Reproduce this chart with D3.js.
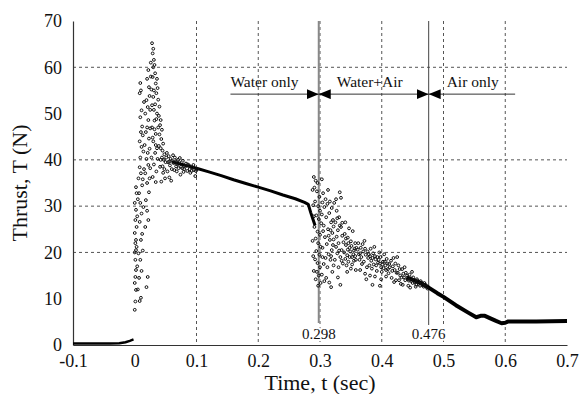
<!DOCTYPE html>
<html>
<head>
<meta charset="utf-8">
<script src="https://cdn.jsdelivr.net/npm/d3@7"></script>
<style>
  body { margin: 0; background: #fff; }
</style>
</head>
<body>
<div id="chart"></div>
<script>
const serif = "'Liberation Serif', 'Times New Roman', Times, 'DejaVu Serif', serif";

// axis ticks
const xTicks = [-0.1, 0, 0.1, 0.2, 0.3, 0.4, 0.5, 0.6, 0.7];
const yTicks = [0, 10, 20, 30, 40, 50, 60, 70];
const xGrid = [0.1, 0.2, 0.3, 0.4, 0.5, 0.6];
const yGrid = [20, 30, 40, 60];

// phase boundaries (sec) and labels
const phaseMarks = [0.298, 0.476];
const phaseLabels = ["Water only", "Water+Air", "Air only"];
const phaseBounds = [0.155, 0.298, 0.476, 0.616];
const arrowLevel = 54.2;

// continuous parts of the record [t, T]
const preLaunch = [[-0.1, 0.3], [-0.04, 0.3], [-0.025, 0.4], [-0.015, 0.6], [-0.008, 0.9], [-0.002, 1.2]];
const waterDecay = [[0.06, 39.6], [0.08, 38.9], [0.10, 38.2], [0.12, 37.4], [0.14, 36.6], [0.16, 35.7],
  [0.18, 34.9], [0.20, 34.1], [0.22, 33.3], [0.24, 32.4], [0.26, 31.6], [0.275, 30.8], [0.281, 30.4],
  [0.285, 28.6], [0.289, 27.0], [0.292, 25.8]];
const airDecay = [[0.44, 14.6], [0.46, 13.6], [0.476, 12.4], [0.49, 11.2], [0.50, 10.4], [0.52, 8.6],
  [0.54, 7.0], [0.553, 6.0], [0.56, 6.3], [0.567, 6.3], [0.575, 5.8], [0.585, 5.2], [0.594, 4.7],
  [0.60, 4.8], [0.605, 5.1], [0.65, 5.1], [0.70, 5.2]];

// scattered samples at ignition [t, T]
const ignitionPoints = [
  [0.000, 7.6], [0.001, 9.4], [0.002, 11.9], [0.000, 13.4], [0.001, 14.7], [0.002, 16.2], [0.001, 18.4],
  [0.000, 20.0], [0.002, 20.5], [0.003, 21.2], [0.001, 22.0], [0.002, 22.7], [0.000, 24.2], [0.003, 25.5],
  [0.001, 27.0], [0.002, 29.2], [0.000, 30.7], [0.003, 32.8], [0.002, 34.1],
  [0.008, 9.5], [0.010, 10.2], [0.007, 14.5], [0.011, 16.0], [0.009, 18.4], [0.006, 19.8], [0.010, 22.7],
  [0.012, 24.0], [0.008, 26.6], [0.011, 28.4], [0.009, 30.7], [0.007, 32.8], [0.012, 34.5], [0.010, 37.1],
  [0.008, 38.4], [0.009, 40.5], [0.011, 42.8], [0.008, 44.0], [0.010, 46.0], [0.012, 47.2], [0.009, 49.2],
  [0.011, 50.7], [0.008, 54.4], [0.010, 55.0], [0.009, 56.6],
  [0.019, 12.5], [0.021, 14.7], [0.017, 25.5], [0.022, 27.0], [0.020, 29.0], [0.018, 31.3], [0.023, 33.0],
  [0.020, 35.0], [0.017, 37.1], [0.022, 38.9], [0.019, 40.2], [0.021, 41.5], [0.016, 43.2], [0.023, 44.6],
  [0.018, 46.0], [0.020, 47.0], [0.022, 48.6], [0.017, 50.0], [0.021, 51.4], [0.019, 52.9], [0.023, 55.7],
  [0.020, 57.5], [0.022, 59.4],
  [0.028, 65.2], [0.030, 64.0], [0.029, 63.0], [0.031, 61.6], [0.032, 60.5], [0.030, 60.0], [0.033, 58.7],
  [0.029, 57.9], [0.034, 56.5], [0.031, 55.0], [0.035, 54.4], [0.030, 53.6], [0.033, 52.0], [0.036, 50.0],
  [0.032, 48.5], [0.028, 47.0], [0.034, 45.6], [0.030, 44.0], [0.036, 42.5], [0.033, 41.5], [0.027, 40.5],
  [0.031, 39.0], [0.035, 37.5], [0.029, 36.3], [0.034, 35.2],
  [0.038, 53.0], [0.040, 51.5], [0.039, 49.5], [0.042, 48.6], [0.041, 47.5], [0.044, 46.5], [0.040, 45.5],
  [0.043, 44.5], [0.046, 43.5], [0.042, 42.5], [0.045, 42.0], [0.048, 41.2], [0.044, 40.5], [0.047, 40.0],
  [0.050, 39.5], [0.041, 38.5], [0.046, 37.2], [0.049, 36.0], [0.043, 35.3],
  [0.052, 41.5], [0.055, 40.8], [0.058, 40.2], [0.054, 39.5], [0.057, 38.8], [0.060, 38.0], [0.053, 37.5],
  [0.056, 36.2], [0.059, 35.5], [0.062, 41.0], [0.065, 40.5], [0.063, 39.3], [0.067, 38.6], [0.070, 40.0],
  [0.068, 37.5], [0.072, 39.5], [0.075, 38.5], [0.074, 36.8], [0.078, 39.8], [0.080, 38.0], [0.083, 39.2],
  [0.085, 37.6], [0.088, 38.8], [0.090, 37.2], [0.093, 38.4], [0.096, 37.8], [0.098, 36.5], [0.101, 38.0],
  [0.004, 27.8], [0.005, 31.5], [0.004, 17.0], [0.005, 12.0], [0.006, 36.0], [0.013, 20.4], [0.014, 29.8],
  [0.013, 35.8], [0.014, 41.8], [0.013, 45.3], [0.015, 52.5], [0.015, 38.0], [0.024, 42.4], [0.025, 46.8],
  [0.025, 50.8], [0.024, 53.8], [0.026, 58.0], [0.026, 61.0], [0.027, 55.2], [0.025, 38.2], [0.024, 36.0],
  [0.036, 57.5], [0.037, 55.5], [0.038, 47.0], [0.039, 43.0], [0.037, 40.2], [0.035, 48.8], [0.032, 46.6],
  [0.034, 43.2], [0.031, 50.8], [0.028, 51.8], [0.029, 44.8], [0.042, 40.0], [0.045, 38.6], [0.048, 38.0],
  [0.051, 40.5], [0.056, 39.6], [0.061, 39.8], [0.064, 37.8], [0.066, 39.6], [0.069, 39.0], [0.071, 38.2],
  [0.073, 40.4], [0.077, 38.2], [0.079, 37.4], [0.082, 38.6], [0.086, 39.0], [0.089, 38.0], [0.092, 37.6],
  [0.095, 38.9], [0.099, 37.6]
];

// scattered samples in the water+air phase [t, T]
const mixedPoints = [
  [0.290, 36.3], [0.293, 35.5], [0.296, 35.0], [0.291, 34.0], [0.295, 33.2], [0.299, 32.0], [0.292, 31.0],
  [0.297, 30.0], [0.300, 29.0], [0.294, 28.0], [0.298, 27.2], [0.302, 26.3], [0.291, 25.5], [0.296, 24.5],
  [0.300, 23.8], [0.293, 23.0], [0.297, 22.0], [0.301, 21.2], [0.294, 20.3], [0.299, 19.5], [0.292, 18.5],
  [0.296, 17.7], [0.300, 16.8], [0.295, 15.8], [0.298, 15.0], [0.293, 14.2], [0.301, 13.4], [0.297, 12.8],
  [0.305, 32.8], [0.309, 31.5], [0.312, 30.5], [0.307, 29.8], [0.315, 28.5], [0.310, 27.6], [0.318, 26.5],
  [0.306, 25.8], [0.313, 25.0], [0.320, 24.2], [0.308, 23.3], [0.316, 22.7], [0.311, 21.8], [0.304, 21.0],
  [0.319, 20.5], [0.314, 19.6], [0.309, 18.8], [0.317, 18.4], [0.306, 17.5], [0.312, 16.8], [0.320, 15.8],
  [0.310, 14.5], [0.315, 13.5], [0.318, 12.5],
  [0.323, 30.7], [0.327, 29.0], [0.331, 27.6], [0.325, 26.5], [0.334, 25.5], [0.329, 24.8], [0.336, 23.6],
  [0.322, 22.8], [0.330, 22.0], [0.326, 21.2], [0.335, 20.5], [0.328, 19.8], [0.333, 19.0], [0.324, 18.4],
  [0.337, 17.6], [0.330, 16.8], [0.332, 33.0], [0.334, 31.8],
  [0.340, 24.0], [0.345, 23.2], [0.350, 22.4], [0.342, 21.6], [0.348, 21.0], [0.355, 20.4], [0.339, 20.0],
  [0.344, 19.4], [0.352, 19.0], [0.358, 18.4], [0.346, 18.0], [0.341, 26.5], [0.347, 25.2], [0.353, 24.6],
  [0.357, 22.0], [0.343, 17.2], [0.350, 16.5], [0.356, 20.8],
  [0.362, 22.0], [0.366, 21.0], [0.370, 20.2], [0.374, 19.5], [0.378, 18.8], [0.382, 20.8], [0.386, 19.8],
  [0.390, 18.5], [0.394, 17.8], [0.398, 19.0], [0.402, 18.0], [0.406, 17.2], [0.410, 16.4], [0.364, 18.4],
  [0.368, 17.5], [0.372, 22.5], [0.376, 16.8], [0.380, 17.2], [0.384, 16.5], [0.388, 21.2], [0.392, 16.0],
  [0.396, 20.0], [0.400, 15.8], [0.404, 19.6], [0.408, 18.6], [0.412, 17.5], [0.363, 19.6], [0.371, 18.0],
  [0.379, 19.6], [0.387, 17.4], [0.395, 18.4], [0.403, 16.6], [0.411, 15.5], [0.385, 13.0], [0.397, 12.8],
  [0.375, 14.2],
  [0.415, 18.2], [0.418, 17.0], [0.421, 16.2], [0.424, 15.6], [0.427, 17.2], [0.430, 15.0], [0.433, 16.4],
  [0.436, 14.6], [0.439, 15.6], [0.442, 14.2], [0.445, 15.2], [0.448, 13.8], [0.451, 14.6], [0.454, 13.5],
  [0.457, 14.2], [0.460, 13.2], [0.463, 13.8], [0.466, 12.9], [0.469, 13.4], [0.472, 12.6], [0.416, 14.5],
  [0.420, 13.6], [0.425, 19.0], [0.431, 13.2], [0.437, 16.8], [0.443, 12.8], [0.449, 15.8], [0.455, 12.6],
  [0.419, 18.8], [0.428, 14.0],
  [0.288, 33.5], [0.289, 30.2], [0.290, 27.8], [0.288, 22.5], [0.289, 19.2], [0.290, 16.0], [0.303, 35.8],
  [0.304, 30.8], [0.303, 28.2], [0.305, 24.6], [0.304, 19.0], [0.303, 15.2], [0.307, 13.8],
  [0.313, 33.5], [0.316, 31.0], [0.319, 29.6], [0.321, 27.0], [0.317, 24.8], [0.322, 25.6], [0.314, 23.6],
  [0.321, 21.6], [0.318, 19.2], [0.322, 17.2],
  [0.326, 31.5], [0.328, 27.4], [0.332, 25.8], [0.336, 26.4], [0.338, 22.2], [0.327, 23.4], [0.331, 20.4],
  [0.335, 18.2], [0.329, 14.6], [0.333, 13.0],
  [0.342, 23.0], [0.346, 22.0], [0.349, 20.2], [0.351, 21.4], [0.354, 19.6], [0.357, 19.2], [0.359, 21.0],
  [0.345, 20.6], [0.348, 19.0], [0.352, 17.4], [0.355, 18.2], [0.358, 16.2], [0.341, 18.6], [0.344, 15.8],
  [0.361, 20.6], [0.365, 19.8], [0.367, 19.0], [0.369, 21.8], [0.373, 20.8], [0.377, 20.2], [0.381, 19.2],
  [0.383, 18.2], [0.385, 18.8], [0.389, 19.2], [0.391, 17.2], [0.393, 19.0], [0.397, 17.6], [0.399, 16.8],
  [0.401, 17.4], [0.405, 18.0], [0.407, 16.2], [0.409, 17.6], [0.413, 16.8], [0.365, 16.2], [0.373, 15.4],
  [0.381, 15.0], [0.389, 14.8], [0.399, 14.2], [0.407, 14.8],
  [0.417, 16.0], [0.422, 17.6], [0.426, 15.6], [0.429, 16.4], [0.432, 14.6], [0.435, 15.4], [0.438, 14.0],
  [0.441, 15.0], [0.444, 13.9], [0.447, 14.4], [0.450, 13.4], [0.453, 14.0], [0.456, 13.0], [0.459, 13.8],
  [0.462, 12.8], [0.465, 13.4], [0.468, 12.6], [0.471, 13.0], [0.474, 12.2], [0.423, 14.0], [0.434, 13.0],
  [0.446, 12.4]
];

const margin = {top: 21, right: 13, bottom: 49, left: 73};
const width = 580 - margin.left - margin.right;
const height = 394 - margin.top - margin.bottom;

const svg = d3.select("#chart").append("svg")
  .attr("width", 580)
  .attr("height", 394)
  .style("font-family", serif);

const g = svg.append("g")
  .attr("transform", `translate(${margin.left},${margin.top})`);

const x = d3.scaleLinear().domain([-0.1, 0.7]).range([0, width]);
const y = d3.scaleLinear().domain([0, 70]).range([height, 0]);

// dashed grid
g.append("g").selectAll("line").data(xGrid).join("line")
  .attr("x1", d => x(d)).attr("x2", d => x(d))
  .attr("y1", 0).attr("y2", height)
  .attr("stroke", "#555").attr("stroke-width", 1).attr("stroke-dasharray", "3,3");
g.append("g").selectAll("line").data(yGrid).join("line")
  .attr("x1", 0).attr("x2", width)
  .attr("y1", d => y(d)).attr("y2", d => y(d))
  .attr("stroke", "#555").attr("stroke-width", 1).attr("stroke-dasharray", "3,3");

// axes
const xAxisG = g.append("g")
  .attr("transform", `translate(0,${height})`)
  .call(d3.axisBottom(x).tickValues(xTicks).tickSize(0).tickPadding(11).tickFormat(d => String(d)));
const yAxisG = g.append("g")
  .call(d3.axisLeft(y).tickValues(yTicks).tickSize(0).tickPadding(11).tickFormat(d => String(d)));
[xAxisG, yAxisG].forEach(a => {
  a.attr("font-family", null);
  a.select(".domain").attr("stroke", "#333").attr("stroke-width", 1.2);
  a.selectAll("text").style("font-family", serif).attr("font-size", 18).attr("fill", "#111");
});
xAxisG.selectAll("text").attr("dy", "0.62em");

// phase marker lines
g.append("line")
  .attr("x1", x(phaseMarks[0])).attr("x2", x(phaseMarks[0]))
  .attr("y1", 0).attr("y2", height - 22)
  .attr("stroke", "#888").attr("stroke-width", 2);
g.append("line")
  .attr("x1", x(phaseMarks[1])).attr("x2", x(phaseMarks[1]))
  .attr("y1", 0).attr("y2", height - 20)
  .attr("stroke", "#444").attr("stroke-width", 1);

// thrust record: lines
const line = d3.line().x(d => x(d[0])).y(d => y(d[1]));
g.append("path").datum(preLaunch).attr("d", line)
  .attr("fill", "none").attr("stroke", "#000").attr("stroke-width", 2.5);
g.append("path").datum(waterDecay).attr("d", line)
  .attr("fill", "none").attr("stroke", "#000").attr("stroke-width", 3).attr("stroke-linejoin", "round");
g.append("path").datum(airDecay).attr("d", line)
  .attr("fill", "none").attr("stroke", "#000").attr("stroke-width", 4).attr("stroke-linejoin", "round");

// thrust record: scattered samples
g.append("g").selectAll("circle").data(ignitionPoints.concat(mixedPoints)).join("circle")
  .attr("cx", d => x(d[0])).attr("cy", d => y(d[1]))
  .attr("r", 1.4)
  .attr("fill", "none").attr("stroke", "#111").attr("stroke-width", 1);

// marker value labels (white halo hides the grid behind)
g.selectAll(".mark-label").data(phaseMarks).join("text")
  .attr("class", "mark-label")
  .attr("x", d => x(d)).attr("y", height - 6)
  .attr("text-anchor", "middle")
  .attr("font-size", 15)
  .attr("stroke", "#fff").attr("stroke-width", 4).attr("paint-order", "stroke")
  .attr("fill", "#111")
  .text(d => d.toFixed(3));

// phase arrows
const defs = svg.append("defs");
defs.append("marker").attr("id", "arr")
  .attr("viewBox", "0 0 12 10").attr("refX", 12).attr("refY", 5)
  .attr("markerWidth", 12).attr("markerHeight", 10)
  .attr("markerUnits", "userSpaceOnUse").attr("orient", "auto-start-reverse")
  .append("path").attr("d", "M0,0L12,5L0,10Z").attr("fill", "#000");

phaseLabels.forEach((label, i) => {
  const x0 = x(phaseBounds[i]), x1 = x(phaseBounds[i + 1]);
  g.append("line")
    .attr("x1", x0).attr("x2", x1)
    .attr("y1", y(arrowLevel)).attr("y2", y(arrowLevel))
    .attr("stroke", "#333").attr("stroke-width", 1)
    .attr("marker-start", i > 0 ? "url(#arr)" : null)
    .attr("marker-end", i < 2 ? "url(#arr)" : null);
  g.append("text")
    .attr("x", i === 0 ? x0 : x0 + 18)
    .attr("y", y(arrowLevel) - 7)
    .attr("font-size", 15.5)
    .attr("fill", "#111")
    .text(label);
});

// axis titles
svg.append("text")
  .attr("x", margin.left + x(0.3))
  .attr("y", 390)
  .attr("text-anchor", "middle")
  .attr("font-size", 22)
  .attr("fill", "#111")
  .text("Time, t (sec)");
svg.append("text")
  .attr("transform", `translate(27,${margin.top + height / 2}) rotate(-90)`)
  .attr("text-anchor", "middle")
  .attr("font-size", 22)
  .attr("fill", "#111")
  .text("Thrust, T (N)");
</script>
</body>
</html>
